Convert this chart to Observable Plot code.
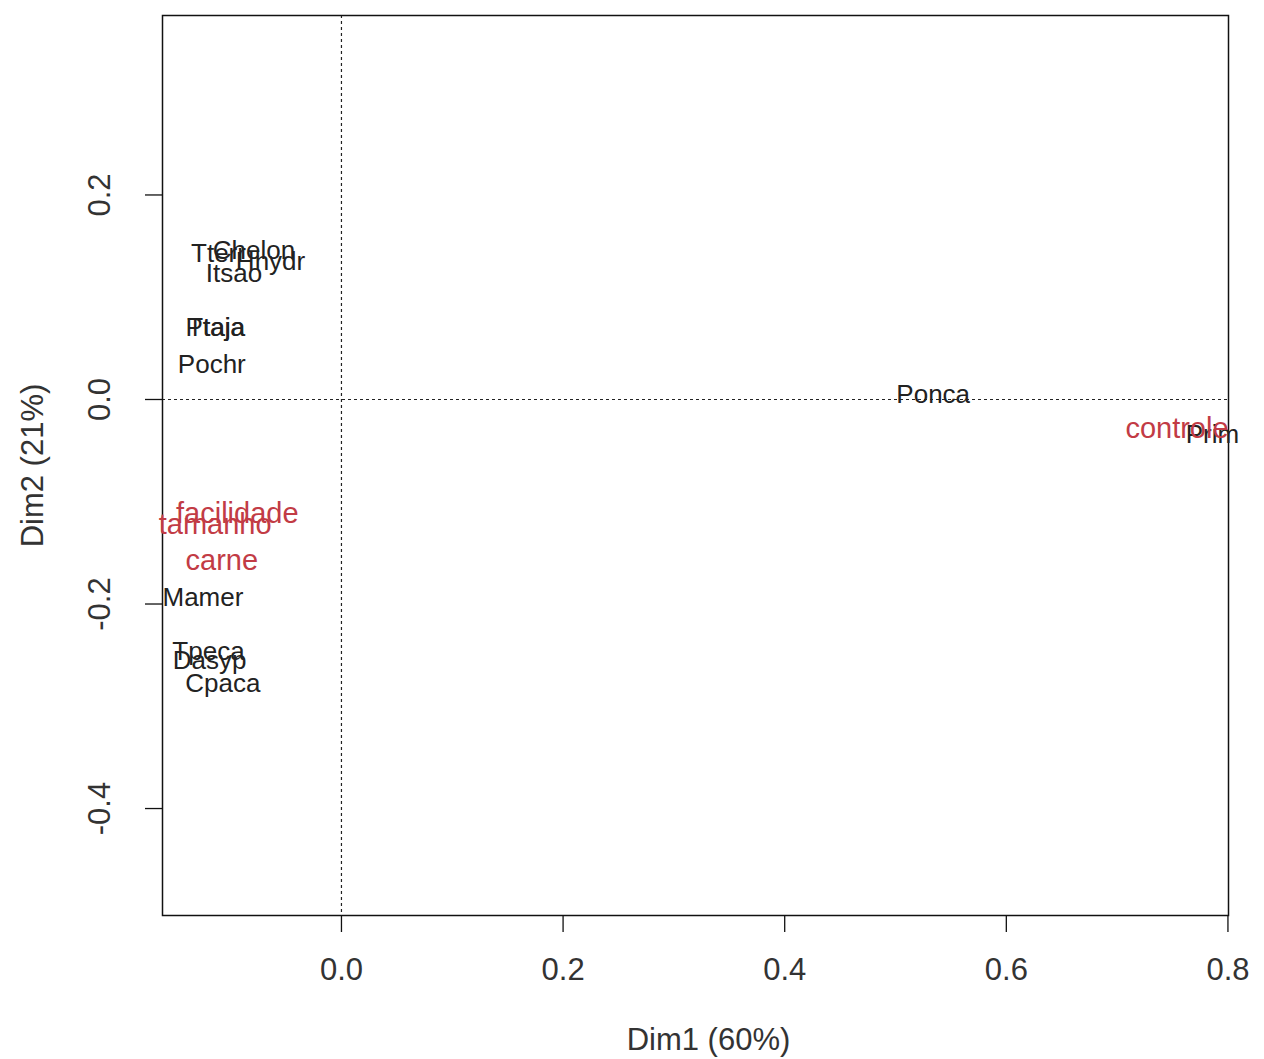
<!DOCTYPE html>
<html>
<head>
<meta charset="utf-8">
<script src="https://cdn.jsdelivr.net/npm/d3@7"></script>
<script src="https://cdn.jsdelivr.net/npm/@observablehq/plot@0.6"></script>
<style>
  html, body { margin: 0; padding: 0; background: #fff; }
</style>
</head>
<body>
<div id="chart"></div>
<script>
// Row points (species), black labels
const rowNames = ["Tterr", "Chelon", "Hhydr", "Itsao", "Ptaja", "Ttaja", "Pochr", "Ponca", "Prim", "Mamer", "Tpeca", "Dasyp", "Cpaca"];
const rowX = [-0.111, -0.079, -0.064, -0.097, -0.114, -0.113, -0.117, 0.534, 0.786, -0.125, -0.120, -0.119, -0.107];
const rowY = [0.143, 0.146, 0.135, 0.123, 0.070, 0.070, 0.034, 0.005, -0.034, -0.194, -0.247, -0.255, -0.278];

// Column points (criteria), red labels
const colNames = ["controle", "facilidade", "tamanho", "carne"];
const colX = [0.754, -0.094, -0.114, -0.108];
const colY = [-0.029, -0.112, -0.122, -0.158];

const xTicks = [0.0, 0.2, 0.4, 0.6, 0.8];
const yTicks = [-0.4, -0.2, 0.0, 0.2];
const xLabel = "Dim1 (60%)";
const yLabel = "Dim2 (21%)";

const rows = rowNames.map((n, i) => ({name: n, x: rowX[i], y: rowY[i]}));
const cols = colNames.map((n, i) => ({name: n, x: colX[i], y: colY[i]}));

const chart = Plot.plot({
  width: 1264,
  height: 1059,
  marginLeft: 162,
  marginRight: 36,
  marginTop: 15,
  marginBottom: 144,
  style: {fontFamily: "'Liberation Sans', Arial, sans-serif", background: "#fff", color: "#222"},
  x: {domain: [-0.1615, 0.8005]},
  y: {domain: [-0.5046, 0.3755]},
  marks: [
    Plot.ruleX([0], {stroke: "#222", strokeWidth: 1.2, strokeDasharray: "3,3"}),
    Plot.ruleY([0], {stroke: "#222", strokeWidth: 1.2, strokeDasharray: "3,3"}),
    Plot.frame({stroke: "#111", strokeWidth: 1.5}),
    Plot.axisX(xTicks, {tickSize: 17, tickPadding: 25, fontSize: 31, tickFormat: d => d.toFixed(1), label: null, stroke: "#111", fill: "#333", strokeWidth: 1.3}),
    Plot.axisY(yTicks, {tickSize: 17, tickFormat: () => "", label: null, stroke: "#111", strokeWidth: 1.3}),
    Plot.text(yTicks, {y: d => d, text: d => d.toFixed(1), frameAnchor: "left", textAnchor: "middle", dx: -62, rotate: -90, fontSize: 31, fill: "#333"}),
    Plot.text([xLabel], {text: d => d, frameAnchor: "bottom", dx: 13, dy: 134, fontSize: 31, fill: "#333"}),
    Plot.text([yLabel], {text: d => d, frameAnchor: "left", textAnchor: "middle", dx: -129, rotate: -90, fontSize: 31, fill: "#333"}),
    Plot.text(rows, {x: "x", y: "y", text: "name", fontSize: 26, fill: "#222"}),
    Plot.text(cols, {x: "x", y: "y", text: "name", fontSize: 29, fill: "#c23b45"})
  ]
});
document.getElementById("chart").appendChild(chart);
</script>
</body>
</html>
